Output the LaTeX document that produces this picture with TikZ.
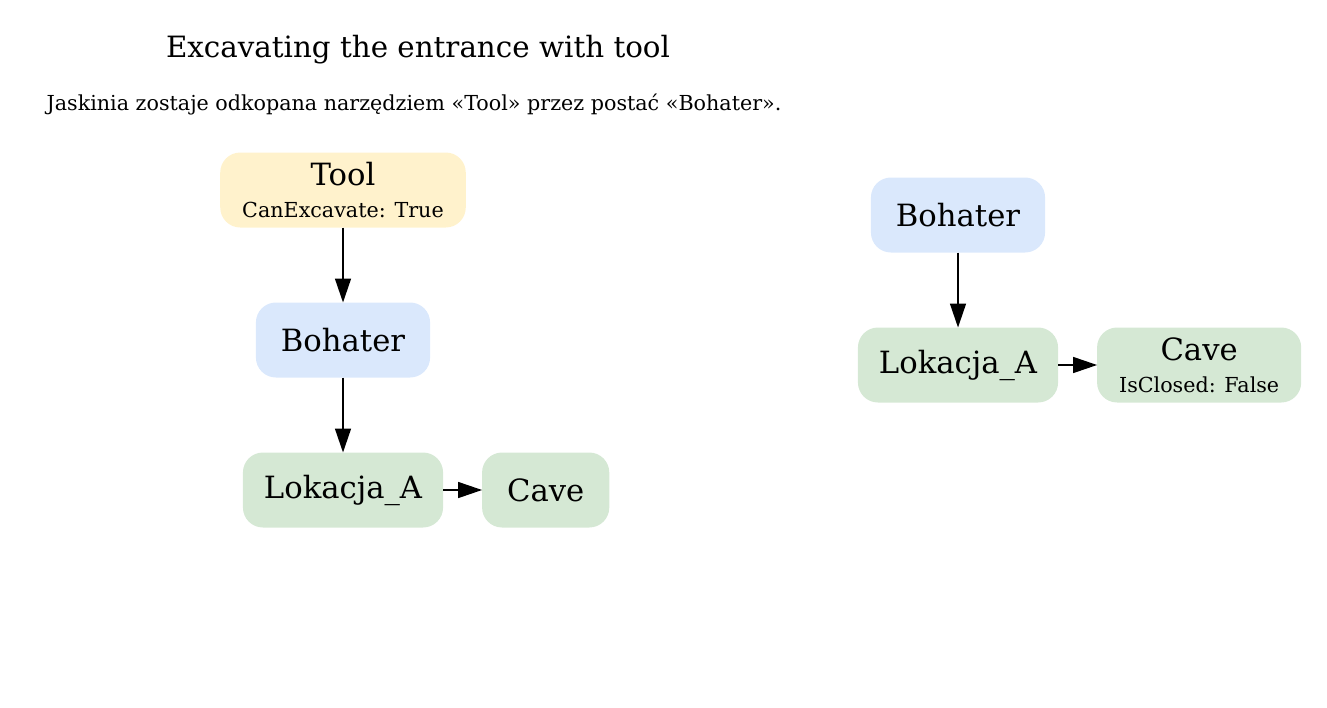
\documentclass[tikz,border=0pt]{standalone}
\usepackage{fontspec}
\setmainfont{DejaVu Serif}
\usetikzlibrary{positioning}
\usetikzlibrary{arrows.meta}
\definecolor{toolfill}{HTML}{FFF2CC}
\definecolor{herofill}{HTML}{DAE8FC}
\definecolor{placefill}{HTML}{D5E8D4}
\newcommand{\attr}[1]{{\fontsize{15.5}{18}\selectfont #1}}

\begin{document}
\begin{tikzpicture}[->, >={Triangle[length=18pt,width=12pt]}, line width=1.1pt, x=0.75pt, y=-0.75pt, node distance=56.25pt and 29.25pt]
\tikzstyle{box}=[rounded corners=15pt,minimum height=56.25pt,inner xsep=18.75pt,outer sep=0pt,align=center,font=\fontsize{23}{27}\selectfont]
\tikzstyle{twoline}=[box,inner xsep=16.5pt]
\useasboundingbox (0,0) rectangle (1327,707);

% title
\node[font=\fontsize{22}{26}\selectfont] (t) at (418,50) {Excavating the entrance with tool};
\node[font=\fontsize{15.5}{18}\selectfont] (s) at (414,105) {Jaskinia zostaje odkopana narzędziem «Tool» przez postać «Bohater».};

% before
\node[twoline, fill=toolfill]   (1) at (343,190) {Tool\\[-3pt]\attr{CanExcavate: True}};
\node[box, fill=herofill]   (2)[below=of 1] {Bohater};
\node[box, fill=placefill, inner xsep=15.75pt]  (3)[below=of 2] {Lokacja\_A};
\node[box, fill=placefill]  (4)[right=of 3] {Cave};

% after
\node[box, fill=herofill]   (5) at (958,215) {Bohater};
\node[box, fill=placefill, inner xsep=15.75pt]  (6)[below=of 5] {Lokacja\_A};
\node[twoline, fill=placefill]  (7)[right=of 6] {Cave\\[-3pt]\attr{IsClosed: False}};

\path
(1) edge (2)
(2) edge (3)
(3) edge (4)
(5) edge (6)
(6) edge (7)
;
\end{tikzpicture}
\end{document}
